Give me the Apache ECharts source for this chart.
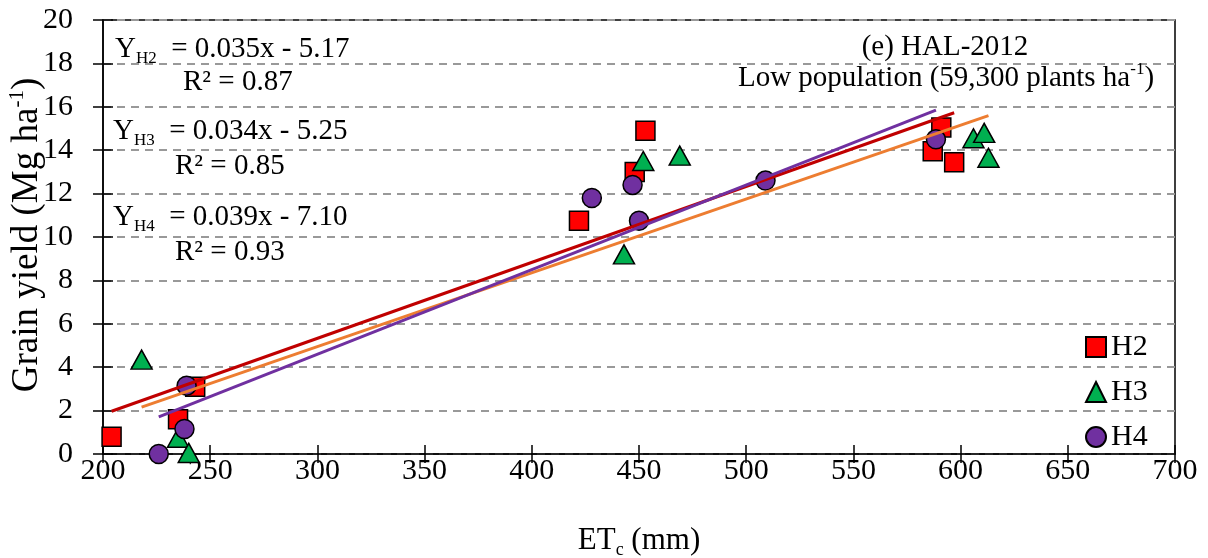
<!DOCTYPE html>
<html>
<head>
<meta charset="utf-8">
<script src="https://cdn.jsdelivr.net/npm/echarts@6/dist/echarts.min.js"></script>
<style>
  html, body { margin: 0; padding: 0; background: #fff; }
  #chart { width: 1208px; height: 558px; }
</style>
</head>
<body>
<div id="chart"></div>
<script>
// 数据 (ETc mm, 产量 Mg/ha)
const h2X = [204, 235, 243, 422, 448, 453, 587, 591, 597]
const h2Y = [0.8, 1.6, 3.1, 10.75, 13.0, 14.9, 13.95, 15.05, 13.45]
const h3X = [218, 235, 240, 443, 452, 469, 606, 611, 613]
const h3Y = [4.35, 0.75, 0.05, 9.2, 13.5, 13.75, 14.55, 14.8, 13.65]
const h4X = [226, 238, 239, 428, 447, 450, 509, 588.5]
const h4Y = [0, 1.15, 3.15, 11.8, 12.4, 10.75, 12.6, 14.5]

const names = ['H2', 'H3', 'H4']
// 趋势线 y = a*x + b
const slopes = [0.035, 0.034, 0.039]
const intercepts = [-5.17, -5.25, -7.10]
const r2 = ['0.87', '0.85', '0.93']

const xTicks = [200, 250, 300, 350, 400, 450, 500, 550, 600, 650, 700]
const yTicks = [0, 2, 4, 6, 8, 10, 12, 14, 16, 18, 20]

const FONT = '"Liberation Serif", "Times New Roman", serif'
const markColors = ['#FF0000', '#00B050', '#7030A0']
const lineColors = ['#C00000', '#ED7D31', '#7030A0']
const symbols = ['rect', 'triangle', 'circle']

const zip = (xs, ys) => xs.map((x, i) => [x, ys[i]])
const groups = [zip(h2X, h2Y), zip(h3X, h3Y), zip(h4X, h4Y)]

// 趋势线两端点
const trend = function (i) {
  let xs = groups[i].map(p => p[0])
  let lo = Math.min(...xs)
  let hi = Math.max(...xs)
  return [[lo, slopes[i] * lo + intercepts[i]], [hi, slopes[i] * hi + intercepts[i]]]
}

let series = []
groups.forEach((data, i) => {
  series.push({
    name: names[i],
    type: 'scatter',
    data: data,
    symbol: symbols[i],
    symbolSize: i === 1 ? [21, 19] : 19,
    itemStyle: { color: markColors[i], borderColor: '#000', borderWidth: 1.5, opacity: 1 },
    z: 3 + i
  })
})
groups.forEach((data, i) => {
  series.push({
    name: names[i] + ' trend',
    type: 'line',
    data: trend(i),
    showSymbol: false,
    silent: true,
    lineStyle: { color: lineColors[i], width: 3 },
    z: 10
  })
})

// 方程文字
const eqs = [
  { sub: 'H2', text: '  = 0.035x - 5.17', x: 115, y: 49, rx: 183, ry: 82 },
  { sub: 'H3', text: '  = 0.034x - 5.25', x: 113, y: 131, rx: 175, ry: 166 },
  { sub: 'H4', text: '  = 0.039x - 7.10', x: 113, y: 217, rx: 175, ry: 252 }
]
const richBase = {
  m: { fontFamily: FONT, fontSize: 29, color: '#000' },
  s: { fontFamily: FONT, fontSize: 17, color: '#000', padding: [20, 0, 0, 0] },
  sup: { fontFamily: FONT, fontSize: 17, color: '#000', padding: [0, 0, 16, 0] },
  big: { fontFamily: FONT, fontSize: 37, color: '#000' },
  bigSup: { fontFamily: FONT, fontSize: 21, color: '#000', padding: [0, 0, 19, 0] }
}
let graphics = []
eqs.forEach((e, i) => {
  graphics.push({
    type: 'text', x: e.x, y: e.y, z: 20,
    style: { text: '{m|Y}{s|' + e.sub + '}{m|' + e.text + '}', rich: richBase, verticalAlign: 'middle', align: 'left' }
  })
  graphics.push({
    type: 'text', x: e.rx, y: e.ry, z: 20,
    style: { text: 'R² = ' + r2[i], font: '29px ' + FONT, fill: '#000', verticalAlign: 'middle', align: 'left' }
  })
})
graphics.push({
  type: 'text', x: 945, y: 47, z: 20,
  style: { text: '(e) HAL-2012', font: '29px ' + FONT, fill: '#000', verticalAlign: 'middle', align: 'center' }
})
graphics.push({
  type: 'text', x: 946, y: 78, z: 20,
  style: { text: '{m|Low population (59,300 plants ha}{sup|-1}{m|)}', rich: richBase, verticalAlign: 'middle', align: 'center' }
})
// y 轴标题
graphics.push({
  type: 'text', x: 27, y: 235, rotation: Math.PI / 2, z: 20,
  style: { text: '{big|Grain yield (Mg ha}{bigSup|-1}{big|)}', rich: richBase, verticalAlign: 'middle', align: 'center' }
})

const gridLine = { show: true, lineStyle: { color: '#999', width: 2, type: [8, 6] } }

let chart = echarts.init(document.getElementById('chart'))
chart.setOption({
  animation: false,
  backgroundColor: '#fff',
  grid: {
    left: 103, right: 33, top: 20, bottom: 104,
    outerBoundsMode: 'none',
    containLabel: false,
    show: true, borderColor: '#000', borderWidth: 1.5, backgroundColor: 'transparent'
  },
  legend: {
    data: names,
    orient: 'vertical',
    left: 1080,
    top: 327,
    itemWidth: 20,
    itemHeight: 20,
    itemGap: 15,
    textStyle: { fontFamily: FONT, fontSize: 30, color: '#000', lineHeight: 30 }
  },
  xAxis: [{
    type: 'value',
    min: xTicks[0],
    max: xTicks[xTicks.length - 1],
    interval: 50,
    name: '{n|ET}{s|c}{n| (mm)}',
    nameLocation: 'middle',
    nameGap: 69,
    nameTextStyle: {
      rich: {
        n: { fontFamily: FONT, fontSize: 31, color: '#000' },
        s: { fontFamily: FONT, fontSize: 18, color: '#000', padding: [18, 0, 0, 0] }
      }
    },
    axisLine: { lineStyle: { color: '#000', width: 1.5 } },
    axisTick: { length: 9, lineStyle: { color: '#000', width: 1.5 } },
    axisLabel: { fontFamily: FONT, fontSize: 30, color: '#000', margin: 2 },
    splitLine: { show: false }
  }, {
    type: 'value',
    min: xTicks[0],
    max: xTicks[xTicks.length - 1],
    interval: 50,
    position: 'bottom',
    axisLine: { show: false },
    axisTick: { inside: true, length: 9, lineStyle: { color: '#000', width: 1.5 } },
    axisLabel: { show: false },
    splitLine: { show: false }
  }],
  yAxis: [{
    type: 'value',
    min: yTicks[0],
    max: yTicks[yTicks.length - 1],
    interval: 2,
    axisLine: { show: true, lineStyle: { color: '#000', width: 1.5 } },
    axisTick: { show: true, length: 10, lineStyle: { color: '#000', width: 1.5 } },
    axisLabel: { fontFamily: FONT, fontSize: 30, color: '#000', margin: 30 },
    splitLine: gridLine
  }, {
    type: 'value',
    min: yTicks[0],
    max: yTicks[yTicks.length - 1],
    interval: 2,
    position: 'left',
    axisLine: { show: false },
    axisTick: { show: true, inside: true, length: 10, lineStyle: { color: '#000', width: 1.5 } },
    axisLabel: { show: false },
    splitLine: { show: false }
  }],
  graphic: graphics,
  series: series
})
</script>
</body>
</html>
